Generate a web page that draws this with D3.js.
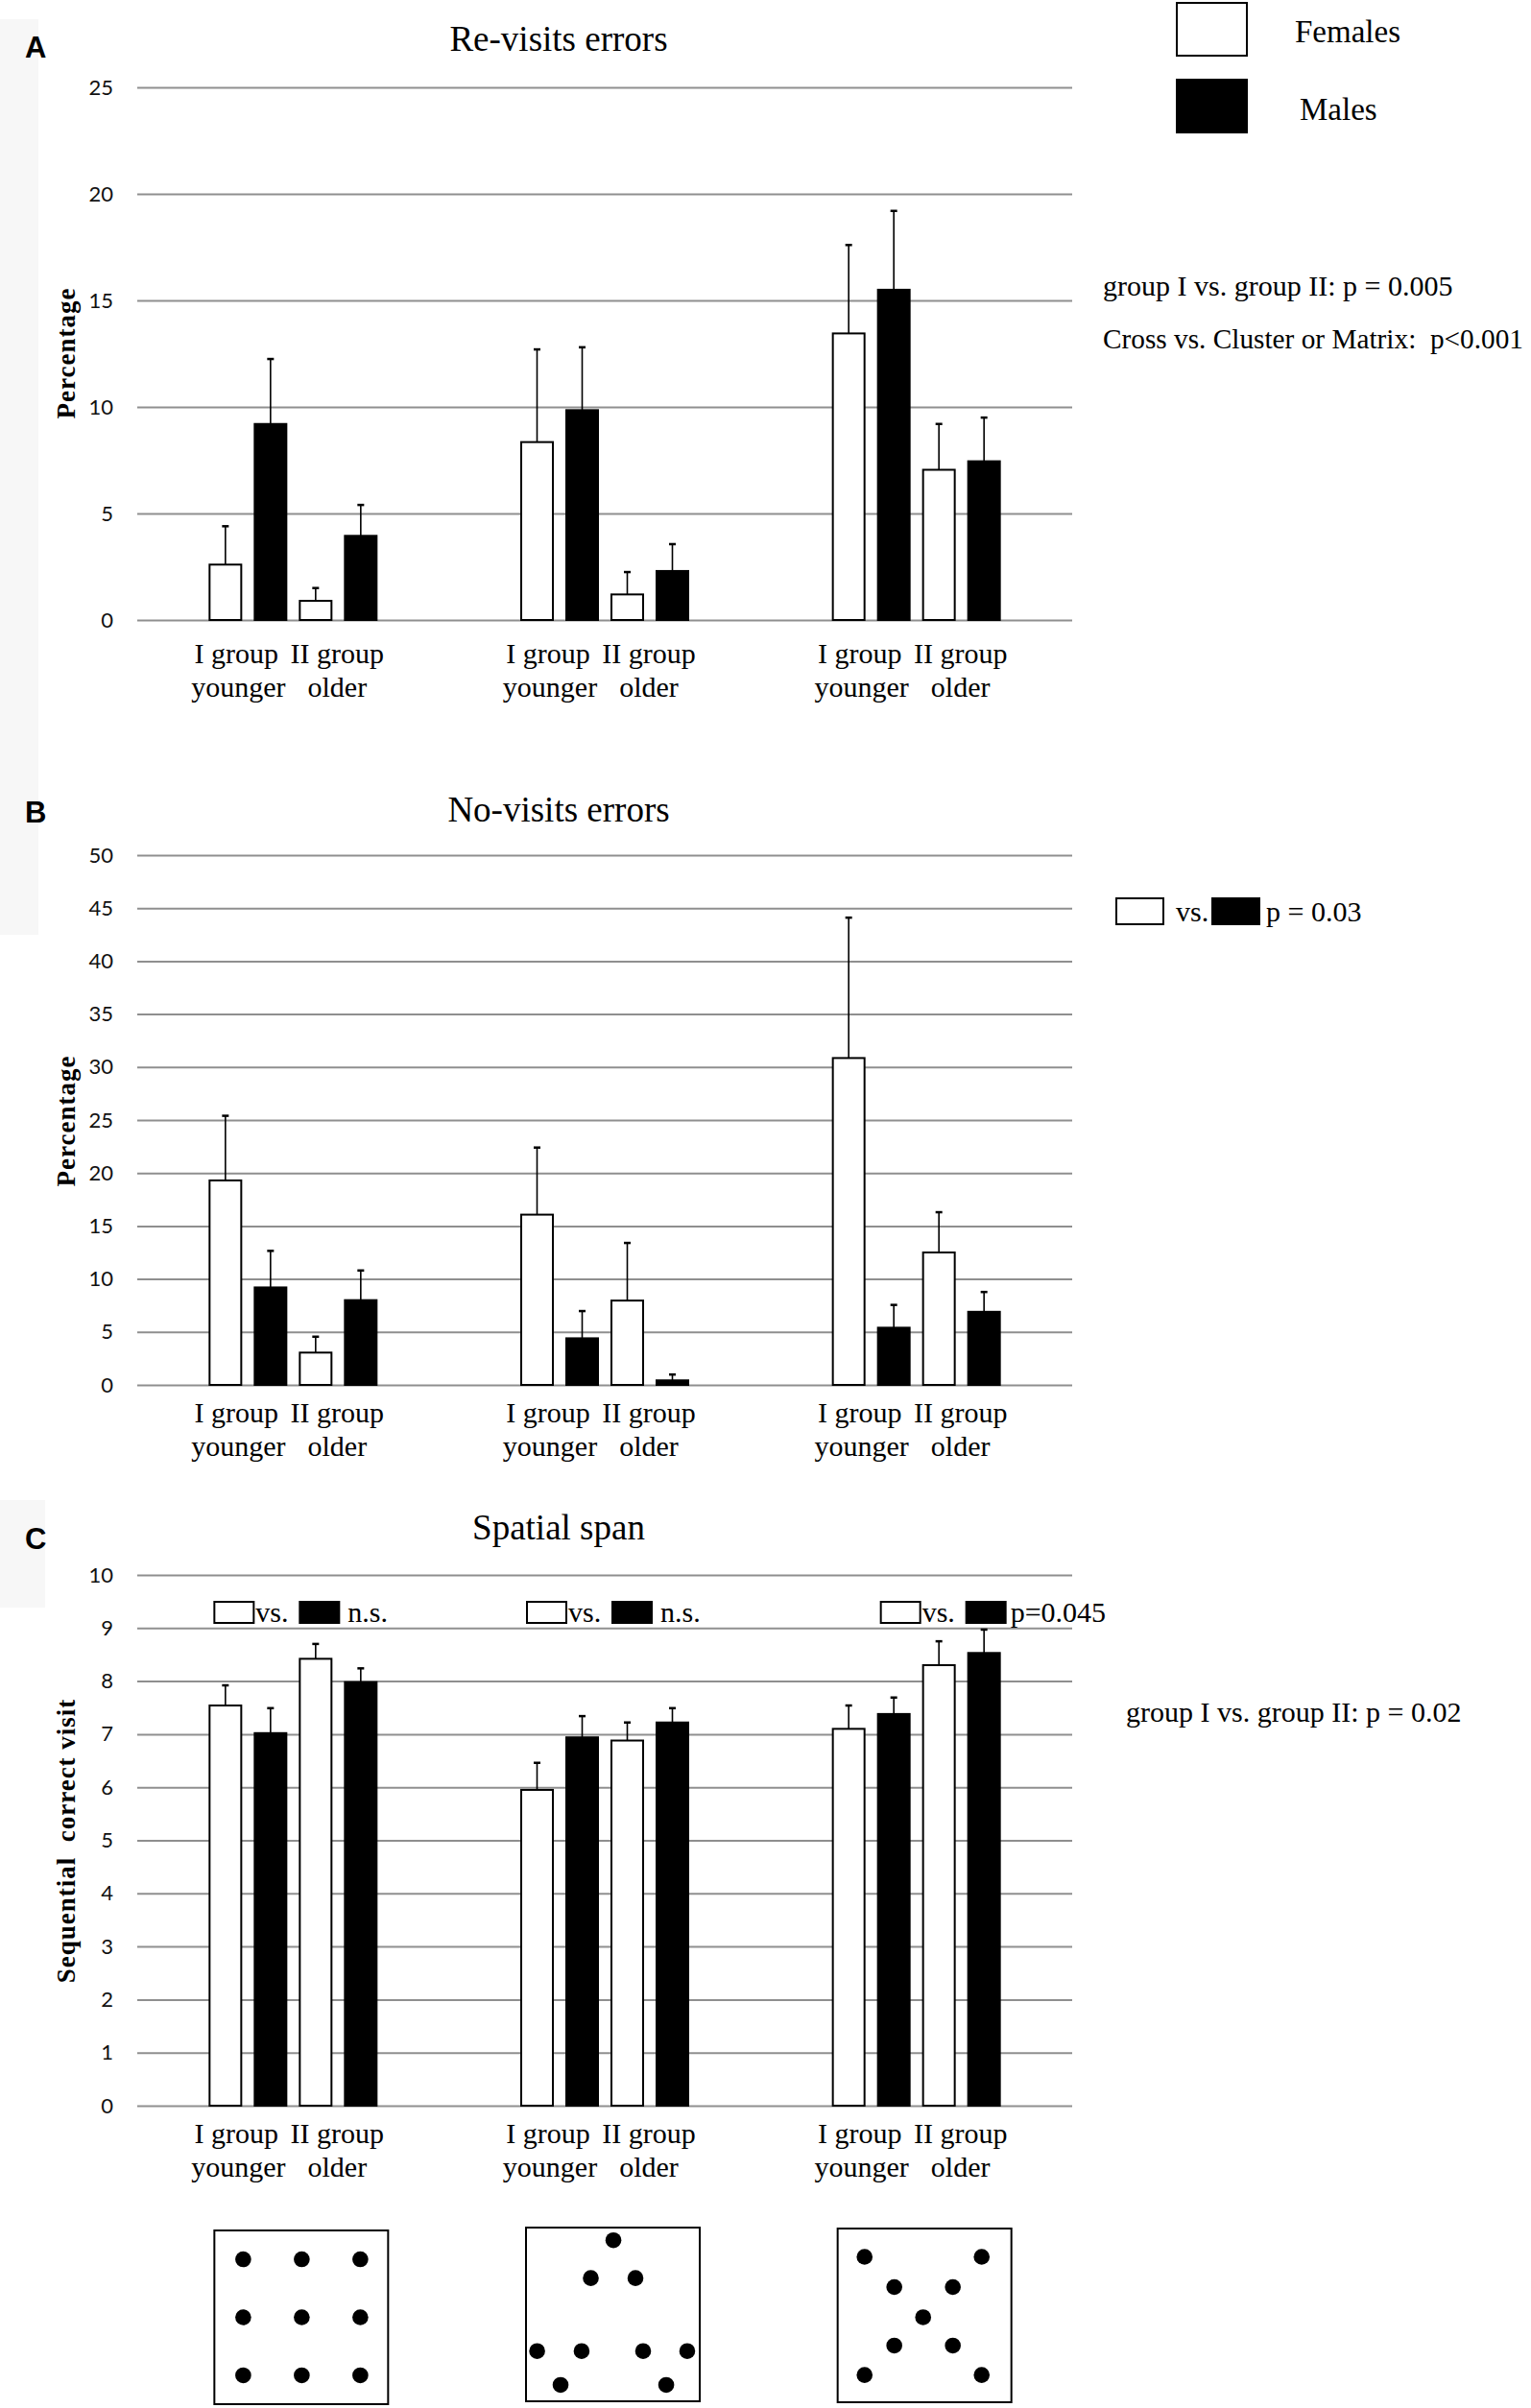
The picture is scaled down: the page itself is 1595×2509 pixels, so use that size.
<!DOCTYPE html>
<html>
<head>
<meta charset="utf-8">
<script src="https://cdn.jsdelivr.net/npm/d3@7"></script>
<style>
  body { margin: 0; background: #fff; }
  .serif { font-family: "Liberation Serif", "Times New Roman", serif; fill: #000; white-space: pre; }
  .tick text { font-family: Lato, "Open Sans", sans-serif; font-size: 22px; fill: #111; }
</style>
</head>
<body>
<div id="chart"></div>
<script>
// three maze layouts, left to right
const layouts = ["Matrix", "Cluster", "Cross"];
// four bars per layout: I group F/M, II group F/M
const barKeys = ["IF", "IM", "IIF", "IIM"];
const barFill = ["#fff", "#000", "#fff", "#000"];
const catTop = ["I group", "II group"];
const catBottom = ["younger", "older"];

// A - re-visits errors (%)
const revisitMean = [[2.6, 9.2, 0.9, 3.95], [8.35, 9.85, 1.2, 2.3], [13.45, 15.5, 7.05, 7.45]];
const revisitErr  = [[1.8, 3.05, 0.6, 1.45], [4.35, 2.95, 1.05, 1.26], [4.15, 3.7, 2.15, 2.05]];
const revisitTicks = [0, 5, 10, 15, 20, 25];

// B - no-visits errors (%)
const novisitMean = [[19.3, 9.2, 3.05, 8.0], [16.07, 4.4, 7.96, 0.43], [30.85, 5.4, 12.5, 6.9]];
const novisitErr  = [[6.1, 3.45, 1.5, 2.8], [6.33, 2.57, 5.44, 0.55], [13.25, 2.15, 3.8, 1.87]];
const novisitTicks = [0, 5, 10, 15, 20, 25, 30, 35, 40, 45, 50];

// C - spatial span (sequential correct visits)
const spanMean = [[7.54, 7.02, 8.42, 7.98], [5.95, 6.94, 6.88, 7.22], [7.10, 7.38, 8.30, 8.53]];
const spanErr  = [[0.38, 0.47, 0.28, 0.26], [0.51, 0.40, 0.34, 0.27], [0.44, 0.31, 0.45, 0.44]];
const spanTicks = [0, 1, 2, 3, 4, 5, 6, 7, 8, 9, 10];
const spanNotes = ["n.s.", "n.s.", "p=0.045"];

// dot layouts of the three mazes (unit square)
const matrixDots = [[.166,.166],[.503,.166],[.84,.166],[.166,.5],[.503,.5],[.84,.5],[.166,.834],[.503,.834],[.84,.834]];
const clusterDots = [[.503,.073],[.373,.291],[.63,.291],[.064,.711],[.32,.711],[.674,.711],[.928,.711],[.199,.906],[.807,.906]];
const crossDots = [[.155,.163],[.829,.163],[.326,.337],[.663,.337],[.492,.511],[.326,.674],[.663,.674],[.155,.843],[.829,.843]];

const W = 1595, H = 2509;
const svg = d3.select("#chart").append("svg").attr("width", W).attr("height", H);

// faint panel backgrounds on the left edge
svg.append("rect").attr("x", 0).attr("y", 20).attr("width", 40).attr("height", 954).attr("fill", "#f7f7f7");
svg.append("rect").attr("x", 0).attr("y", 1563).attr("width", 47).attr("height", 112).attr("fill", "#f7f7f7");

const x0 = d3.scaleBand().domain(layouts).range([143, 1117]);
const x1 = d3.scaleBand().domain(barKeys).range([-87, 87]).paddingInner(14 / 47);

function panel(o) {
  const y = d3.scaleLinear().domain(o.domain).range([o.bottom, o.top]);
  const g = svg.append("g");

  const axis = g.append("g").attr("transform", "translate(143,0)")
    .call(d3.axisLeft(y).tickValues(o.ticks).tickSize(-(1117 - 143)).tickPadding(25).tickFormat(d3.format("d")));
  axis.select(".domain").remove();
  axis.selectAll(".tick line").attr("stroke", "#8f8f8f").attr("stroke-width", 2);

  // panel letter
  svg.append("text").attr("x", 26).attr("y", o.letterY).text(o.letter)
    .attr("font-family", "Liberation Sans, Arial, sans-serif").attr("font-weight", "bold").attr("font-size", 31);

  // title
  svg.append("text").attr("class", "serif").attr("x", 582).attr("y", o.titleY)
    .attr("text-anchor", "middle").attr("font-size", 37).text(o.title);

  // y label
  svg.append("text").attr("class", "serif").attr("font-weight", "bold").attr("font-size", 27)
    .attr("letter-spacing", 1).attr("text-anchor", "middle")
    .attr("transform", `translate(78,${o.ylabY}) rotate(-90)`).text(o.ylab);

  const rows = [];
  layouts.forEach((l, i) => barKeys.forEach((k, j) => rows.push({
    l, k, j, v: o.mean[i][j], e: o.err[i][j]
  })));
  const cx = d => x0(d.l) + x0.bandwidth() / 2 + x1(d.k);

  // error bars (upper whisker only)
  const eb = g.selectAll(".eb").data(rows).join("g");
  eb.append("line")
    .attr("x1", d => cx(d) + x1.bandwidth() / 2).attr("x2", d => cx(d) + x1.bandwidth() / 2)
    .attr("y1", d => y(d.v)).attr("y2", d => y(d.v + d.e))
    .attr("stroke", "#000").attr("stroke-width", 1.6);
  eb.append("line")
    .attr("x1", d => cx(d) + x1.bandwidth() / 2 - 3.5).attr("x2", d => cx(d) + x1.bandwidth() / 2 + 3.5)
    .attr("y1", d => y(d.v + d.e)).attr("y2", d => y(d.v + d.e))
    .attr("stroke", "#000").attr("stroke-width", 2.5);

  g.selectAll(".bar").data(rows).join("rect")
    .attr("x", d => cx(d)).attr("width", x1.bandwidth())
    .attr("y", d => y(d.v)).attr("height", d => y(0) - y(d.v))
    .attr("fill", d => barFill[d.j]).attr("stroke", "#000").attr("stroke-width", 2);

  // category labels
  layouts.forEach(l => {
    const c = x0(l) + x0.bandwidth() / 2;
    [[-59, 0], [46, 1]].forEach(([dx, k]) => {
      const t = g.append("text").attr("class", "serif").attr("font-size", 30).attr("text-anchor", "middle");
      t.append("tspan").attr("x", c + dx).attr("y", o.bottom + o.labOff).text(catTop[k]);
      t.append("tspan").attr("x", c + dx + (k === 0 ? 2 : 0)).attr("y", o.bottom + o.labOff + 35).text(catBottom[k]);
    });
  });
  return y;
}

panel({ letter: "A", letterY: 60, title: "Re-visits errors", titleY: 53, ylab: "Percentage", ylabY: 368,
  domain: [0, 25], bottom: 646, top: 91, ticks: revisitTicks, mean: revisitMean, err: revisitErr, labOff: 45 });
panel({ letter: "B", letterY: 857, title: "No-visits errors", titleY: 856, ylab: "Percentage", ylabY: 1168,
  domain: [0, 50], bottom: 1443, top: 891, ticks: novisitTicks, mean: novisitMean, err: novisitErr, labOff: 39 });
panel({ letter: "C", letterY: 1614, title: "Spatial span", titleY: 1604, ylab: "Sequential\u00a0 correct visit", ylabY: 1918,
  domain: [0, 10], bottom: 2194, top: 1641, ticks: spanTicks, mean: spanMean, err: spanErr, labOff: 39 });

function swatch(x, y, w, h, fill) {
  svg.append("rect").attr("x", x).attr("y", y).attr("width", w).attr("height", h)
    .attr("fill", fill).attr("stroke", "#000").attr("stroke-width", 2);
}
function label(x, y, s, size) {
  return svg.append("text").attr("class", "serif").attr("x", x).attr("y", y).attr("font-size", size || 30).text(s);
}

// legend
swatch(1226, 3, 73, 55, "#fff");
swatch(1226, 83, 73, 55, "#000");
label(1349, 44, "Females", 33);
label(1354, 125, "Males", 33);

// A stats
label(1149, 308, "group I vs. group II: p = 0.005");
label(1149, 363, "Cross vs. Cluster or Matrix:\u00a0 p<0.001", 29)
  .attr("textLength", 438).attr("lengthAdjust", "spacingAndGlyphs");

// B stats
swatch(1163, 936, 49, 27, "#fff");
label(1225, 960, "vs.");
swatch(1263, 936, 49, 27, "#000");
label(1319, 960, "p = 0.03");

// C stats
const noteShift = [-82, -81, -37];
layouts.forEach((l, i) => {
  const bx = x0(l) + x0.bandwidth() / 2 + noteShift[i];
  swatch(bx, 1669, 41, 22, "#fff");
  label(bx + 43, 1690, "vs.");
  swatch(bx + 89, 1669, 41, 22, "#000");
  label(bx + (i === 2 ? 135 : 139), 1690, spanNotes[i]);
});
label(1173, 1794, "group I vs. group II: p = 0.02");

// maze dot patterns
const dotSets = [matrixDots, clusterDots, crossDots];
const boxTop = [2324, 2321, 2322];
layouts.forEach((l, i) => {
  const bx = x0(l) + x0.bandwidth() / 2 - 82;
  const sx = d3.scaleLinear().domain([0, 1]).range([bx, bx + 181]);
  const sy = d3.scaleLinear().domain([0, 1]).range([boxTop[i], boxTop[i] + 181]);
  svg.append("rect").attr("x", sx(0)).attr("y", sy(0)).attr("width", 181).attr("height", 181)
    .attr("fill", "none").attr("stroke", "#000").attr("stroke-width", 2);
  svg.append("g").selectAll("circle").data(dotSets[i]).join("circle")
    .attr("cx", d => sx(d[0])).attr("cy", d => sy(d[1])).attr("r", 8.3).attr("fill", "#000");
});
</script>
</body>
</html>
